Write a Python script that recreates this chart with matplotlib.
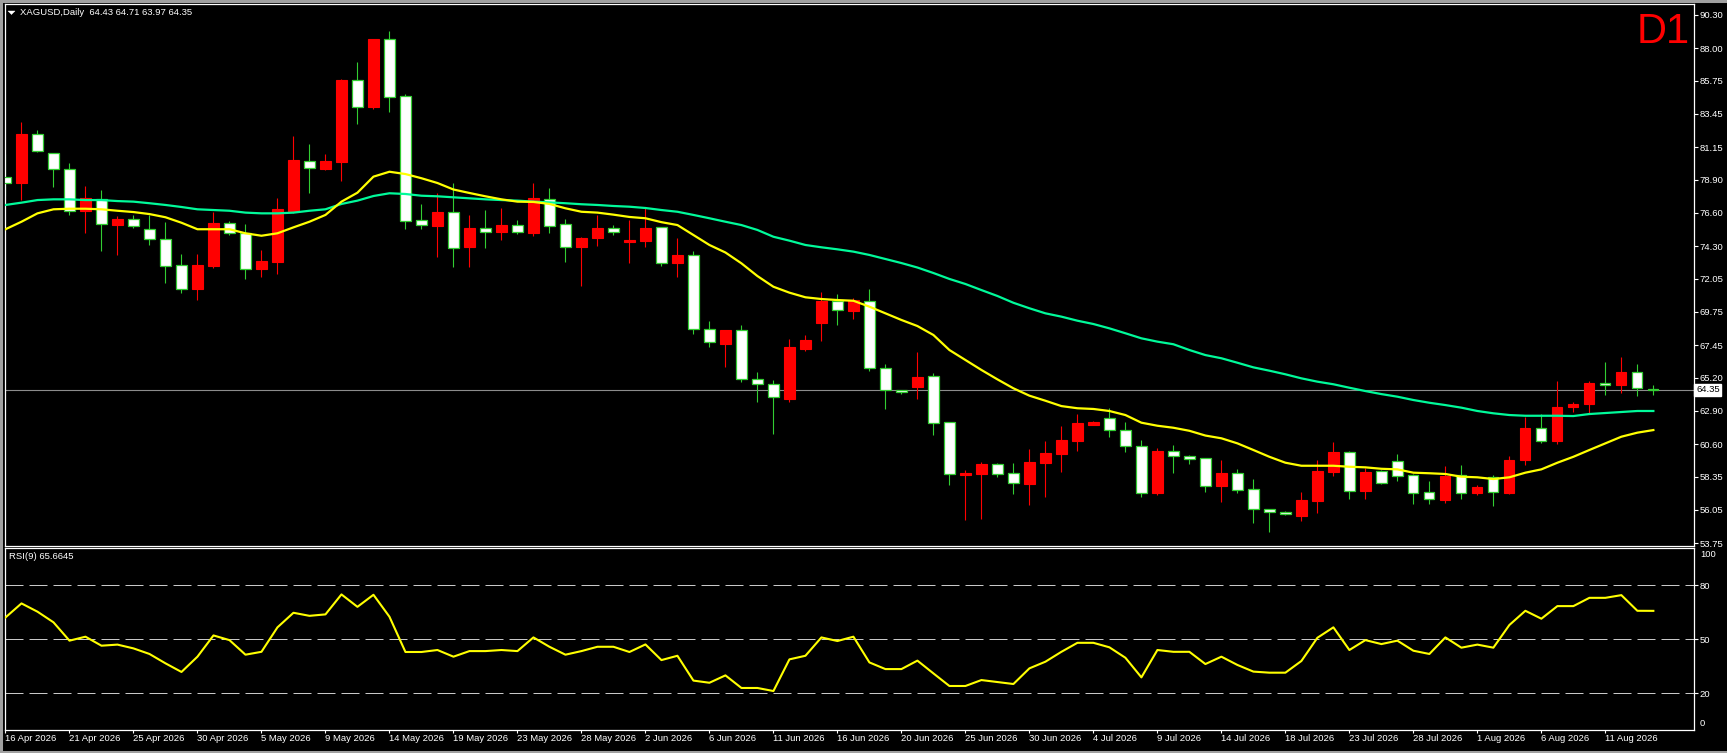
import matplotlib
matplotlib.use("Agg")
import numpy as np
import matplotlib.pyplot as plt
from matplotlib.patches import Polygon
from matplotlib.lines import Line2D
import matplotlib.transforms as mtransforms

# daily bars, XAGUSD
opens = [79.09, 78.69, 82.06, 80.73, 79.62, 76.75, 77.58, 75.78, 76.16, 75.49,
         74.77, 72.97, 71.31, 72.95, 75.88, 75.19, 72.70, 73.22, 76.75, 80.21,
         79.66, 80.14, 85.78, 83.93, 88.62, 84.67, 76.11, 75.69, 76.64, 74.24,
         75.53, 75.30, 75.74, 75.21, 77.54, 75.81, 74.24, 74.86, 75.53, 74.61,
         74.68, 75.60, 73.15, 73.67, 68.54, 67.55, 68.47, 65.08, 64.74, 63.74,
         67.20, 69.00, 70.50, 69.83, 70.52, 65.84, 64.34, 64.57, 65.29, 62.10,
         58.48, 58.55, 59.20, 58.58, 57.87, 59.31, 59.93, 60.83, 61.94, 62.38,
         61.55, 60.44, 57.19, 60.10, 59.75, 59.61, 57.72, 58.58, 57.47, 56.08,
         55.90, 55.64, 56.68, 58.66, 60.03, 57.37, 58.71, 59.41, 58.44, 57.28,
         56.73, 58.44, 57.23, 58.34, 57.23, 59.50, 61.69, 60.81, 63.19, 63.39,
         64.82, 64.69, 65.59, 64.43]
highs = [80.68, 82.89, 82.34, 80.75, 80.06, 78.46, 78.19, 76.41, 76.46, 76.46,
         76.00, 73.75, 73.75, 76.68, 76.04, 75.81, 74.03, 77.61, 81.92, 81.37,
         80.68, 85.85, 87.05, 88.64, 89.19, 84.83, 77.22, 77.96, 78.65, 76.46,
         76.80, 76.94, 76.11, 78.69, 78.32, 76.20, 74.90, 76.46, 75.76, 76.11,
         76.92, 75.65, 74.86, 73.96, 69.12, 68.50, 68.84, 65.59, 65.03, 67.87,
         68.13, 71.12, 70.99, 70.69, 71.33, 66.14, 64.36, 66.97, 65.52, 62.15,
         58.80, 59.36, 59.31, 59.31, 60.26, 60.81, 61.87, 62.68, 62.22, 63.10,
         62.10, 60.86, 60.31, 60.54, 59.84, 59.65, 59.50, 58.87, 58.16, 56.10,
         55.95, 57.26, 59.50, 60.74, 60.10, 58.92, 58.80, 59.91, 58.50, 58.04,
         59.10, 59.15, 57.77, 58.46, 59.77, 62.49, 62.66, 64.96, 63.51, 64.96,
         66.28, 66.63, 66.14, 64.71]
lows = [77.77, 77.49, 80.82, 78.41, 76.46, 75.21, 73.98, 73.71, 75.58, 74.38,
        71.77, 71.08, 70.57, 72.77, 75.05, 72.00, 72.19, 72.37, 76.60, 77.96,
        79.60, 78.83, 82.75, 83.81, 83.61, 75.47, 75.51, 73.57, 72.88, 72.88,
        74.19, 74.72, 75.14, 75.00, 75.23, 73.22, 71.56, 74.31, 75.07, 73.15,
        74.26, 72.95, 72.19, 68.24, 67.34, 65.95, 64.92, 63.50, 61.30, 63.50,
        67.06, 67.75, 68.86, 69.26, 65.68, 63.05, 64.08, 63.72, 61.23, 57.79,
        55.34, 55.41, 58.34, 57.14, 56.38, 56.96, 58.69, 60.12, 61.94, 61.11,
        60.05, 56.96, 57.07, 58.62, 59.24, 57.30, 56.61, 57.23, 55.16, 54.53,
        55.68, 55.29, 55.85, 58.39, 56.80, 56.80, 57.83, 58.04, 56.45, 56.45,
        56.54, 56.80, 57.07, 56.33, 57.14, 59.15, 60.65, 60.60, 62.84, 62.73,
        63.99, 64.15, 63.95, 63.97]
closes = [78.67, 82.06, 80.91, 79.62, 76.75, 77.63, 75.81, 76.18, 75.67, 74.77,
          72.95, 71.31, 72.97, 75.90, 75.21, 72.70, 73.27, 76.85, 80.26, 79.69,
          80.17, 85.80, 83.95, 88.64, 84.64, 76.02, 75.74, 76.66, 74.19, 75.56,
          75.30, 75.76, 75.30, 77.63, 75.71, 74.26, 74.86, 75.56, 75.30, 74.72,
          75.56, 73.15, 73.67, 68.54, 67.64, 68.49, 65.08, 64.74, 63.84, 67.32,
          67.80, 70.50, 69.86, 70.57, 65.84, 64.32, 64.22, 65.22, 62.04, 58.51,
          58.60, 59.22, 58.51, 57.88, 59.36, 59.98, 60.88, 62.06, 62.13, 61.55,
          60.44, 57.19, 60.10, 59.75, 59.54, 57.72, 58.60, 57.40, 56.08, 55.87,
          55.74, 56.73, 58.73, 60.05, 57.37, 58.66, 57.92, 58.41, 57.19, 56.78,
          58.41, 57.23, 57.63, 57.26, 59.50, 61.73, 60.83, 63.17, 63.35, 64.80,
          64.71, 65.59, 64.46, 64.35]

ma_fast = [75.47, 75.99, 76.57, 76.85, 76.89, 76.89, 76.85, 76.75, 76.66, 76.52,
           76.30, 75.92, 75.47, 75.47, 75.47, 75.19, 75.02, 75.19, 75.60, 75.99,
           76.46, 77.38, 78.00, 79.11, 79.45, 79.29, 79.00, 78.67, 78.22, 77.98,
           77.75, 77.54, 77.38, 77.36, 77.22, 76.92, 76.68, 76.62, 76.48, 76.32,
           76.23, 75.96, 75.76, 75.07, 74.38, 73.86, 73.11, 72.23, 71.49, 71.08,
           70.76, 70.64, 70.57, 70.52, 70.11, 69.65, 69.19, 68.77, 68.15, 67.11,
           66.42, 65.73, 65.08, 64.46, 63.95, 63.60, 63.23, 63.08, 63.03, 62.89,
           62.61, 62.08, 61.87, 61.73, 61.52, 61.19, 61.00, 60.65, 60.19, 59.72,
           59.31, 59.10, 59.10, 59.10, 59.03, 58.99, 58.89, 58.85, 58.62, 58.58,
           58.53, 58.34, 58.30, 58.18, 58.30, 58.62, 58.85, 59.31, 59.72, 60.19,
           60.65, 61.11, 61.39, 61.57]
ma_slow = [77.15, 77.31, 77.49, 77.54, 77.54, 77.49, 77.49, 77.42, 77.38, 77.27,
           77.15, 77.01, 76.85, 76.80, 76.75, 76.62, 76.57, 76.57, 76.62, 76.75,
           76.85, 77.22, 77.45, 77.77, 77.96, 77.91, 77.79, 77.75, 77.68, 77.61,
           77.54, 77.49, 77.45, 77.38, 77.33, 77.27, 77.20, 77.15, 77.08, 77.03,
           76.94, 76.80, 76.68, 76.46, 76.23, 75.99, 75.76, 75.42, 74.95, 74.68,
           74.38, 74.22, 74.08, 73.92, 73.69, 73.41, 73.13, 72.82, 72.44, 72.03,
           71.68, 71.26, 70.85, 70.38, 70.00, 69.65, 69.42, 69.14, 68.91, 68.61,
           68.27, 67.92, 67.69, 67.51, 67.11, 66.76, 66.54, 66.23, 65.91, 65.68,
           65.43, 65.15, 64.92, 64.74, 64.50, 64.27, 64.06, 63.88, 63.65, 63.46,
           63.30, 63.12, 62.89, 62.73, 62.61, 62.56, 62.56, 62.56, 62.54, 62.68,
           62.75, 62.82, 62.89, 62.89]
rsi = [62.0, 69.8, 65.2, 59.3, 49.1, 51.3, 46.3, 46.9, 44.8, 41.7,
       36.5, 31.7, 40.2, 52.0, 49.4, 41.3, 42.9, 56.5, 64.6, 62.9,
       63.7, 74.8, 67.9, 74.6, 62.4, 42.8, 42.8, 43.9, 40.2, 43.3,
       43.3, 43.9, 43.3, 50.9, 45.7, 41.3, 43.3, 45.7, 45.7, 42.8,
       47.0, 38.3, 40.7, 26.9, 25.7, 29.8, 22.8, 22.8, 21.1, 38.7,
       40.7, 50.9, 48.9, 51.3, 37.0, 33.3, 33.3, 38.0, 30.9, 23.9,
       23.9, 27.2, 26.1, 25.0, 33.7, 37.4, 42.9, 47.9, 47.9, 45.4,
       39.6, 28.7, 43.9, 42.9, 42.9, 36.1, 40.2, 35.6, 31.9, 31.3,
       31.3, 37.8, 50.7, 56.5, 43.9, 49.4, 47.2, 49.1, 43.5, 41.7,
       50.9, 45.2, 46.9, 45.2, 57.8, 65.7, 61.3, 68.3, 68.3, 72.9,
       72.9, 74.4, 65.7, 65.6645]

date_labels = ["16 Apr 2026", "21 Apr 2026", "25 Apr 2026", "30 Apr 2026", "5 May 2026",
               "9 May 2026", "14 May 2026", "19 May 2026", "23 May 2026", "28 May 2026",
               "2 Jun 2026", "6 Jun 2026", "11 Jun 2026", "16 Jun 2026", "20 Jun 2026",
               "25 Jun 2026", "30 Jun 2026", "4 Jul 2026", "9 Jul 2026", "14 Jul 2026",
               "18 Jul 2026", "23 Jul 2026", "28 Jul 2026", "1 Aug 2026", "6 Aug 2026",
               "11 Aug 2026"]
price_ticks = [90.30, 88.00, 85.75, 83.45, 81.15, 78.90, 76.60, 74.30, 72.05,
               69.75, 67.45, 65.20, 62.90, 60.60, 58.35, 56.05, 53.75]
rsi_levels = [80, 50, 20]
last_price = 64.35

W, H = 1727, 753
FONT = "Liberation Sans"
plt.rcParams['font.family'] = [FONT, 'DejaVu Sans']

fig = plt.figure(figsize=(W / 100, H / 100), dpi=100, facecolor='black')


def fx(px):
    return px / W


def fy(py):
    return 1 - py / H


ax = fig.add_axes([fx(5), fy(545.5), fx(1689), (545.5 - 4) / H], facecolor='black')
ax2 = fig.add_axes([fx(5), fy(730), fx(1689), (730 - 548) / H], facecolor='black')

n = len(closes)
x = np.arange(n)
o = np.array(opens)
c = np.array(closes)
hi = np.array(highs)
lo = np.array(lows)
up = c >= o

bull_col = '#FF0000'
bear_edge = '#32CD32'

# wicks
ax.vlines(x[up], lo[up], hi[up], color=bull_col, lw=0.8, zorder=2)
ax.vlines(x[~up], lo[~up], hi[~up], color=bear_edge, lw=0.8, zorder=2)
# bodies
bottoms = np.minimum(o, c)
heights = np.abs(c - o)
ax.bar(x[up], heights[up], bottom=bottoms[up], width=0.64,
       color=bull_col, edgecolor=bull_col, lw=0.8, zorder=3)
ax.bar(x[~up], heights[~up], bottom=bottoms[~up], width=0.64,
       color='white', edgecolor=bear_edge, lw=0.9, zorder=3)

ax.plot(x, ma_slow, color='#00FA9A', lw=1.6, zorder=4)
ax.plot(x, ma_fast, color='#FFFF00', lw=1.6, zorder=4)
ax.axhline(last_price, color='#8C8C8C', lw=0.8, zorder=1)

xl = (-0.03, 105.54)
ax.set_xlim(*xl)
ax.set_ylim(53.58, 91.06)
ax.set_xticks([])
ax.yaxis.tick_right()
ax.set_yticks(price_ticks)
ax.set_yticklabels([f"{v:.2f}" for v in price_ticks])

for a in (ax, ax2):
    for s in a.spines.values():
        s.set_color('white')
        s.set_linewidth(0.9)
    a.tick_params(axis='y', colors='white', labelcolor='white', length=2.9,
                  width=0.8, pad=1.0, labelsize=6.8, right=True, left=False)

# current price tag
trans = mtransforms.blended_transform_factory(ax.transAxes, ax.transData)
ax.text(1.0012, last_price, "64.35", transform=trans, ha='left', va='center',
        fontsize=6.8, color='black', zorder=6, clip_on=False,
        bbox=dict(boxstyle='square,pad=0.18', facecolor='white', edgecolor='white'))

# RSI panel
ax2.plot(x, rsi, color='#FFFF00', lw=1.5, zorder=3)
for lv in rsi_levels:
    ax2.axhline(lv, color='#C8C8C8', lw=0.72, linestyle=(0, (18, 6)), zorder=1)
ax2.set_xlim(*xl)
ax2.set_ylim(-0.56, 100.6)
ax2.yaxis.tick_right()
ax2.set_yticks(rsi_levels)
ax2.set_yticklabels([str(v) for v in rsi_levels])
trans2 = mtransforms.blended_transform_factory(ax2.transAxes, ax2.transData)
ax2.text(1.0035, 97.2, "100", transform=trans2, ha='left', va='center',
         fontsize=6.8, color='white', clip_on=False)
ax2.text(1.0035, 3.3, "0", transform=trans2, ha='left', va='center',
         fontsize=6.8, color='white', clip_on=False)

label_pos = np.arange(0, n, 4)[:len(date_labels)]
ax2.set_xticks(label_pos)
ax2.set_xticklabels(date_labels)
for t in ax2.get_xticklabels():
    t.set_horizontalalignment('left')
ax2.tick_params(axis='x', colors='white', labelcolor='white', length=2.2,
                width=0.8, pad=1.0, labelsize=6.8)

# header texts
tri = [(8, 11), (15, 11), (11.5, 14.5)]
fig.add_artist(Polygon([(fx(px), fy(py)) for px, py in tri], closed=True,
                       facecolor='white', edgecolor='white', lw=0.3,
                       transform=fig.transFigure))
fig.text(fx(20), fy(12.7), "XAGUSD,Daily  64.43 64.71 63.97 64.35", color='white',
         fontsize=6.8, ha='left', va='center')
fig.text(fx(9), fy(556.7), "RSI(9) 65.6645", color='white', fontsize=6.8,
         ha='left', va='center')
fig.text(fx(1690), fy(43), "D1", color='#FF0000', fontsize=30, ha='right',
         va='baseline')

# window frame
for xs, ys in [((0, 1), (fy(1), fy(1))), ((fx(1), fx(1)), (0, 1)),
               ((0, 1), (fy(751.5), fy(751.5)))]:
    fig.add_artist(Line2D(xs, ys, color='#A0A0A0', lw=2.2, transform=fig.transFigure))

fig.savefig("out.png", dpi=100, facecolor='black')
